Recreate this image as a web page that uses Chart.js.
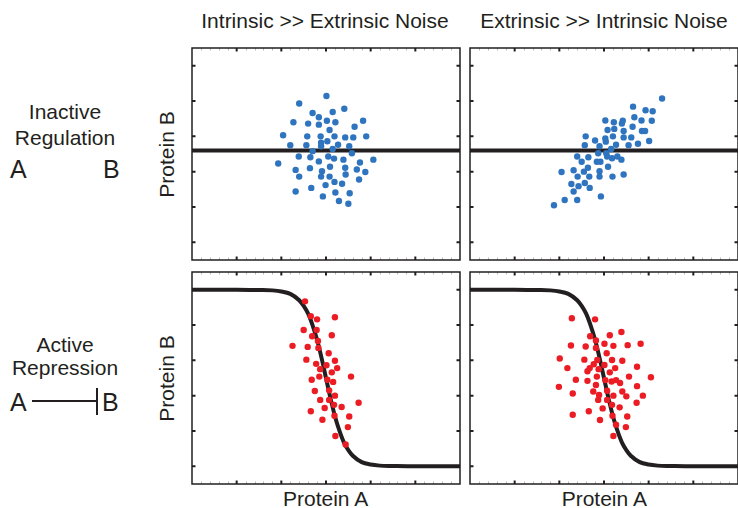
<!DOCTYPE html>
<html>
<head>
<meta charset="utf-8">
<script src="https://cdn.jsdelivr.net/npm/chart.js@4.4.1/dist/chart.umd.min.js"></script>
<style>
  html, body { margin: 0; padding: 0; background: #fff; }
  body { width: 738px; height: 508px; position: relative; overflow: hidden;
         font-family: "Liberation Sans", Arial, Helvetica, sans-serif; color: #231f20; }
  .t { position: absolute; white-space: nowrap; font-size: 21px; line-height: 21px; text-align: center; }
  .big { font-size: 25px; line-height: 25px; text-align: left; }
  .rot { transform: rotate(-90deg); }
  canvas { position: absolute; }
  .bar { position: absolute; background: #231f20; }
</style>
</head>
<body>

<div class="t" style="left:175px;top:9.5px;width:300px;">Intrinsic &gt;&gt; Extrinsic Noise</div>
<div class="t" style="left:454px;top:9.5px;width:300px;">Extrinsic &gt;&gt; Intrinsic Noise</div>

<div class="t" style="left:5px;top:100.5px;width:120px;">Inactive</div>
<div class="t" style="left:5px;top:127.2px;width:120px;">Regulation</div>
<div class="t big" style="left:10px;top:157px;">A</div>
<div class="t big" style="left:103px;top:157px;">B</div>

<div class="t" style="left:5px;top:333.9px;width:120px;">Active</div>
<div class="t" style="left:5px;top:357.2px;width:120px;">Repression</div>
<div class="t big" style="left:10px;top:389.5px;">A</div>
<div class="bar" style="left:32px;top:400.3px;width:65px;height:1.5px;"></div>
<div class="bar" style="left:96px;top:388px;width:1.5px;height:27px;"></div>
<div class="t big" style="left:102px;top:389.5px;">B</div>

<div class="t rot" style="left:115.7px;top:143.5px;width:100px;">Protein B</div>
<div class="t rot" style="left:115.7px;top:367.5px;width:100px;">Protein B</div>

<div class="t" style="left:275.6px;top:487.9px;width:100px;">Protein A</div>
<div class="t" style="left:554.3px;top:487.9px;width:100px;">Protein A</div>

<canvas id="tl"></canvas>
<canvas id="tr"></canvas>
<canvas id="bl"></canvas>
<canvas id="br"></canvas>

<script>
// top-left: intrinsic noise, no regulation
const tlX = [3.01,2.40,3.41,3.15,2.70,2.84,3.83,2.27,3.02,3.21,2.60,2.84,3.64,3.08,2.04,2.58,2.88,3.19,3.43,3.61,3.90,3.03,2.89,2.20,2.56,2.89,3.27,3.52,3.15,2.70,3.58,2.39,2.65,3.05,3.18,3.39,4.06,2.84,3.76,1.93,3.09,2.64,3.43,2.32,2.91,3.69,3.88,3.44,2.40,2.89,3.08,3.74,3.19,3.36,2.99,2.67,2.32,3.21,3.53,2.93,3.29,3.50];
const tlY = [4.64,4.43,4.28,4.19,4.16,4.04,3.94,3.90,3.94,3.90,3.86,3.83,3.77,3.68,3.53,3.50,3.50,3.50,3.47,3.47,3.50,3.36,3.32,3.25,3.25,3.22,3.26,3.22,3.14,3.08,3.02,2.93,2.91,2.93,2.87,2.84,2.84,2.79,2.76,2.73,2.64,2.60,2.61,2.55,2.51,2.56,2.49,2.42,2.36,2.36,2.36,2.28,2.21,2.16,2.12,2.04,1.94,1.91,1.89,1.80,1.67,1.59];

// top-right: extrinsic noise, no regulation
const trX = [4.30,3.65,3.93,4.09,3.68,3.03,3.22,3.42,3.40,3.84,4.07,3.64,3.08,3.23,3.44,3.85,3.92,2.59,3.03,3.20,3.44,3.61,2.80,3.04,4.01,2.57,3.27,3.55,3.76,2.90,3.16,2.87,3.05,2.40,2.65,3.07,3.18,3.30,3.39,2.50,2.84,2.92,3.09,2.64,2.32,2.55,2.05,2.90,2.41,2.67,2.90,3.19,3.44,2.57,2.27,2.43,2.68,2.32,2.93,2.12,2.40,1.88];
const trY = [4.57,4.34,4.24,4.21,4.04,3.95,3.90,3.94,3.86,3.95,3.94,3.77,3.68,3.71,3.65,3.65,3.65,3.50,3.44,3.50,3.47,3.47,3.38,3.35,3.37,3.25,3.26,3.25,3.29,3.22,3.14,3.02,3.02,2.93,2.91,2.93,2.88,2.93,2.84,2.78,2.78,2.78,2.64,2.61,2.54,2.50,2.49,2.51,2.36,2.36,2.36,2.36,2.42,2.18,2.15,2.09,2.04,1.94,1.80,1.70,1.70,1.55];

// bottom-left: intrinsic noise, repression
const blX = [2.53,2.66,2.80,3.20,2.50,2.79,2.69,3.13,2.82,2.25,2.59,2.83,3.06,2.56,2.78,3.20,3.01,2.87,3.25,3.13,2.85,3.56,2.68,3.03,3.16,3.07,2.75,3.20,2.87,3.07,3.18,3.73,3.35,2.97,2.66,3.19,3.52,2.92,3.49,3.21,3.44];
const blY = [5.17,4.75,4.66,4.72,4.36,4.36,4.18,4.21,4.05,3.91,3.88,3.85,3.70,3.52,3.40,3.49,3.36,3.25,3.28,3.16,3.04,3.04,2.95,2.95,2.89,2.65,2.63,2.50,2.38,2.38,2.24,2.30,2.18,2.15,2.06,1.93,1.91,1.82,1.61,1.36,1.12];

// bottom-right: extrinsic noise, repression
const brX = [2.28,2.80,3.39,2.69,3.13,2.82,2.26,2.59,3.01,3.21,3.53,3.82,2.82,3.06,2.01,2.56,2.85,3.18,3.41,2.77,3.01,2.18,2.68,2.88,3.25,3.74,2.63,3.13,2.84,3.56,4.05,2.37,2.63,3.03,3.17,3.27,3.36,2.82,1.99,3.74,3.07,2.76,3.41,2.30,2.89,3.21,3.87,3.50,2.87,3.07,3.73,3.18,2.97,3.35,2.66,2.30,3.19,3.52,2.91,3.27,3.49,3.21];
const brY = [4.69,4.66,4.30,4.18,4.21,4.06,3.92,3.89,3.97,3.91,3.93,3.97,3.85,3.70,3.55,3.52,3.51,3.51,3.49,3.39,3.37,3.28,3.28,3.25,3.28,3.32,3.19,3.16,3.04,3.04,3.02,2.95,2.92,2.94,2.90,2.94,2.86,2.80,2.75,2.77,2.64,2.62,2.62,2.56,2.52,2.50,2.50,2.48,2.38,2.38,2.30,2.24,2.14,2.17,2.06,1.96,1.93,1.91,1.81,1.68,1.61,1.36];

// regulation curves
const flatX = [0, 6];
const flatY = [3.1, 3.1];
const curveX = [0,1,1.5,1.8,2.0,2.2,2.4,2.5,2.6,2.7,2.8,2.9,3.0,3.1,3.2,3.3,3.4,3.5,3.6,3.8,4.0,4.2,4.5,5,6];
const curveY = [5.5,5.5,5.49,5.48,5.45,5.38,5.2,5.04,4.82,4.49,4.08,3.57,3.0,2.43,1.92,1.51,1.18,0.96,0.8,0.62,0.55,0.52,0.51,0.5,0.5];

// ticks (no labels shown)
const xTicks = [1, 2, 3, 4, 5];
const yTicks = [0.5, 1.5, 2.5, 3.5, 4.5, 5.5];
const xMinor = [0.2,0.4,0.6,0.8,1.2,1.4,1.6,1.8,2.2,2.4,2.6,2.8,3.2,3.4,3.6,3.8,4.2,4.4,4.6,4.8,5.2,5.4,5.6,5.8];

const BLUE = '#2f74bf';
const RED = '#ec1c24';
const INK = '#231f20';
const PAD = 3;

const pts = (xs, ys) => xs.map((x, i) => ({ x: x, y: ys[i] }));

const framePlugin = {
  id: 'frame',
  afterDraw(chart) {
    const ctx = chart.ctx;
    const a = chart.chartArea;
    const sx = chart.scales.x, sy = chart.scales.y;
    ctx.save();
    ctx.strokeStyle = '#b8b8b8';
    ctx.lineWidth = 1;
    ctx.beginPath();
    xMinor.forEach((v) => {
      const px = Math.round(sx.getPixelForValue(v)) + 0.5;
      ctx.moveTo(px, a.top); ctx.lineTo(px, a.top + 2.5);
      ctx.moveTo(px, a.bottom); ctx.lineTo(px, a.bottom - 2.5);
    });
    ctx.stroke();
    ctx.strokeStyle = INK;
    ctx.lineWidth = 2;
    ctx.beginPath();
    xTicks.forEach((v) => {
      const px = sx.getPixelForValue(v);
      ctx.moveTo(px, a.top); ctx.lineTo(px, a.top + 3.5);
      ctx.moveTo(px, a.bottom); ctx.lineTo(px, a.bottom - 3.5);
    });
    yTicks.forEach((v) => {
      const py = sy.getPixelForValue(v);
      ctx.moveTo(a.left, py); ctx.lineTo(a.left + 3.5, py);
      ctx.moveTo(a.right, py); ctx.lineTo(a.right - 3.5, py);
    });
    ctx.stroke();
    ctx.lineWidth = 1.5;
    ctx.strokeRect(a.left, a.top, a.right - a.left, a.bottom - a.top);
    ctx.restore();
  }
};

function makePanel(id, left, top, xs, ys, color, lx, ly) {
  const canvas = document.getElementById(id);
  canvas.width = 270 + 2 * PAD;
  canvas.height = 214 + 2 * PAD;
  canvas.style.left = (left - PAD) + 'px';
  canvas.style.top = (top - PAD) + 'px';
  new Chart(canvas.getContext('2d'), {
    type: 'scatter',
    data: {
      datasets: [
        {
          data: pts(xs, ys),
          pointRadius: 3.2,
          pointBackgroundColor: color,
          pointBorderWidth: 0,
          showLine: false,
          order: 0,
        },
        {
          type: 'line',
          data: pts(lx, ly),
          borderColor: INK,
          borderWidth: 4,
          pointRadius: 0,
          fill: false,
          cubicInterpolationMode: 'monotone',
          order: 1,
        },
      ],
    },
    options: {
      responsive: false,
      animation: false,
      events: [],
      layout: { padding: PAD },
      plugins: { legend: { display: false }, tooltip: { enabled: false } },
      scales: {
        x: { type: 'linear', min: 0, max: 6, display: false },
        y: { type: 'linear', min: 0, max: 6, display: false },
      },
    },
    plugins: [framePlugin],
  });
}

makePanel('tl', 191, 47, tlX, tlY, BLUE, flatX, flatY);
makePanel('tr', 469.3, 47, trX, trY, BLUE, flatX, flatY);
makePanel('bl', 191, 271, blX, blY, RED, curveX, curveY);
makePanel('br', 469.3, 271, brX, brY, RED, curveX, curveY);
</script>
</body>
</html>
